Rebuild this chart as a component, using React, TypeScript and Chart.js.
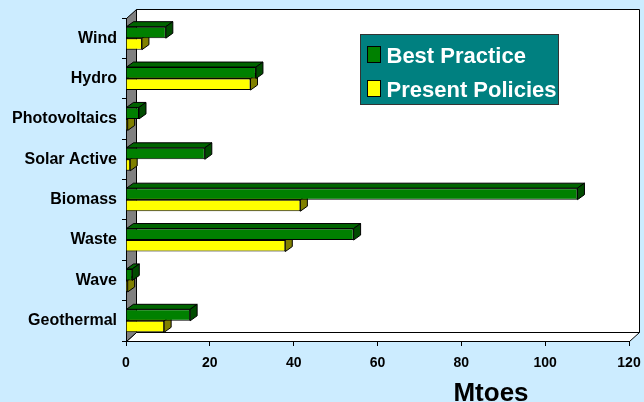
import React, { useEffect, useRef } from "react";
import { Chart, registerables } from "chart.js";

Chart.register(...registerables);

// ---- data ----
const categories = ["Wind", "Hydro", "Photovoltaics", "Solar Active", "Biomass", "Waste", "Wave", "Geothermal"];
const bestPractice = [9.5, 31, 3.1, 18.8, 107.7, 54.3, 1.5, 15.3];
const presentPolicies = [3.8, 29.7, 0.4, 1.0, 41.6, 38.0, 0.4, 9.1];
const xTicks = [0, 20, 40, 60, 80, 100, 120];
const legendLabels = ["Best Practice", "Present Policies"];
const axisTitle = "Mtoes";

// ---- styles ----
const BG = "#CCECFF";
const FONT = "'Liberation Sans', Arial, sans-serif";
const frontColors = ["#008000", "#FFFF00"];
const topColors = ["#006400", "#B3B300"];
const sideColors = ["#004B00", "#808000"];
const DX = 7; // bar depth
const DY = 5;
const WX = 10; // wall depth
const WY = 9;

function poly(ctx: CanvasRenderingContext2D, pts: number[][], fill: string, stroke = "#000") {
  ctx.beginPath();
  ctx.moveTo(pts[0][0], pts[0][1]);
  for (let i = 1; i < pts.length; i++) ctx.lineTo(pts[i][0], pts[i][1]);
  ctx.closePath();
  ctx.fillStyle = fill;
  ctx.fill();
  ctx.strokeStyle = stroke;
  ctx.lineWidth = 1;
  ctx.stroke();
}

const threeD = {
  id: "threeD",
  beforeDraw(chart: any) {
    const { ctx, chartArea: a } = chart;
    ctx.save();
    ctx.fillStyle = BG;
    ctx.fillRect(0, 0, chart.width, chart.height);
    const L = a.left + 0.5, R = a.right + 0.5, T = a.top + 0.5, B = a.bottom + 0.5;
    // back wall
    poly(ctx, [[L + WX, T - WY], [R + WX, T - WY], [R + WX, B - WY], [L + WX, B - WY]], "#FFFFFF");
    // floor
    poly(ctx, [[L, B], [L + WX, B - WY], [R + WX, B - WY], [R, B]], "#FFFFFF");
    // left wall
    poly(ctx, [[L, T], [L + WX, T - WY], [L + WX, B - WY], [L, B]], "#808080");
    ctx.restore();
  },
  beforeDatasetsDraw(chart: any) {
    const ctx = chart.ctx;
    ctx.save();
    for (let d = chart.data.datasets.length - 1; d >= 0; d--) {
      const meta = chart.getDatasetMeta(d);
      meta.data.forEach((el: any) => {
        const { x, y, base, height } = el.getProps(["x", "y", "base", "height"], true);
        const x0 = Math.min(base, x);
        const x1 = Math.max(base, x);
        const y0 = y - height / 2;
        const y1 = y + height / 2;
        poly(ctx, [[x0, y0], [x0 + DX, y0 - DY], [x1 + DX, y0 - DY], [x1, y0]], topColors[d]);
        poly(ctx, [[x1, y0], [x1 + DX, y0 - DY], [x1 + DX, y1 - DY], [x1, y1]], sideColors[d]);
      });
    }
    ctx.restore();
  },
  afterDraw(chart: any) {
    const ctx = chart.ctx;
    ctx.save();
    // legend box
    ctx.fillStyle = "#008080";
    ctx.fillRect(361, 34.5, 198, 70);
    ctx.strokeStyle = "#333333";
    ctx.lineWidth = 1;
    ctx.strokeRect(360.5, 34.5, 198, 70);
    const rows = [63, 97];
    legendLabels.forEach((lab, i) => {
      ctx.fillStyle = frontColors[i];
      ctx.fillRect(367, rows[i] - 16.5, 14, 16);
      ctx.strokeStyle = "#000";
      ctx.strokeRect(367.5, rows[i] - 16.5, 13, 16);
      ctx.fillStyle = "#FFFFFF";
      ctx.font = `bold 22px ${FONT}`;
      ctx.textAlign = "left";
      ctx.textBaseline = "alphabetic";
      ctx.fillText(lab, 386.5, rows[i]);
    });
    // axis title
    ctx.fillStyle = "#000";
    ctx.font = `bold 26px ${FONT}`;
    ctx.textAlign = "center";
    ctx.textBaseline = "alphabetic";
    ctx.fillText(axisTitle, 491, 401);
    ctx.restore();
  },
};

export default function App() {
  const ref = useRef<HTMLCanvasElement | null>(null);
  useEffect(() => {
    if (!ref.current) return;
    const chart = new Chart(ref.current, {
      type: "bar",
      data: {
        labels: categories,
        datasets: [
          {
            label: legendLabels[0],
            data: bestPractice,
            backgroundColor: frontColors[0],
            borderColor: "#000",
            borderWidth: 1,
            categoryPercentage: 0.57,
            barPercentage: 1,
          },
          {
            label: legendLabels[1],
            data: presentPolicies,
            backgroundColor: frontColors[1],
            borderColor: "#000",
            borderWidth: 1,
            categoryPercentage: 0.57,
            barPercentage: 1,
          },
        ],
      },
      options: {
        indexAxis: "y",
        animation: false,
        responsive: false,
        devicePixelRatio: 1,
        layout: { padding: { left: 0, right: 15, top: 18, bottom: 0 } },
        plugins: { legend: { display: false }, tooltip: { enabled: false } },
        scales: {
          x: {
            min: xTicks[0],
            max: xTicks[xTicks.length - 1],
            afterBuildTicks: (s: any) => {
              s.ticks = xTicks.map((v) => ({ value: v }));
            },
            afterFit: (s: any) => {
              s.height = 61;
              s.paddingLeft = 0;
              s.paddingRight = 0;
            },
            grid: { drawOnChartArea: false, tickLength: 5, color: "#000" },
            border: { display: true, color: "#000" },
            ticks: {
              color: "#000",
              padding: 9,
              font: { family: FONT, size: 14, weight: "bold" },
            },
          },
          y: {
            afterFit: (s: any) => {
              s.width = 126;
              s.paddingTop = 0;
              s.paddingBottom = 0;
            },
            grid: { drawOnChartArea: false, tickLength: 4, color: "#000", offset: true },
            border: { display: true, color: "#000" },
            ticks: {
              color: "#000",
              padding: 5,
              font: { family: FONT, size: 16, weight: "bold" },
            },
          },
        },
      },
      plugins: [threeD],
    } as any);
    return () => chart.destroy();
  }, []);
  return (
    <div style={{ position: "fixed", left: 0, top: 0, width: 644, height: 402, background: BG }}>
      <canvas ref={ref} width={644} height={402} style={{ width: 644, height: 402, display: "block" }} />
    </div>
  );
}
